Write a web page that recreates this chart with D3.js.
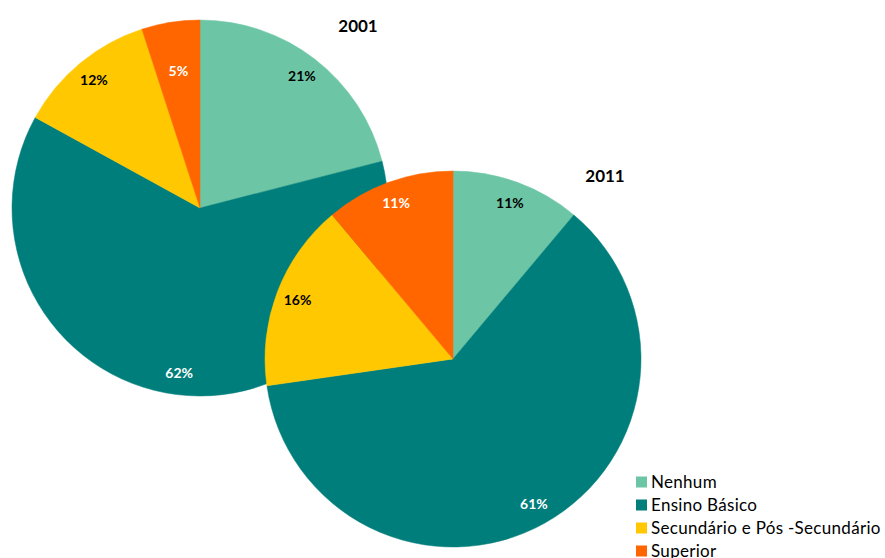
<!DOCTYPE html>
<html>
<head>
<meta charset="utf-8">
<script src="https://cdn.jsdelivr.net/npm/d3@7"></script>
<style>
  html, body { margin: 0; padding: 0; background: #fff; }
  svg { display: block; font-family: Lato, "Open Sans", sans-serif; }
</style>
</head>
<body>
<svg id="chart" width="885" height="558"></svg>
<script>
// Education level shares of the population, 2001 vs 2011
const categories = ["Nenhum", "Ensino Básico", "Secundário e Pós -Secundário", "Superior"];
const values2001 = [21, 62, 12, 5];
const values2011 = [11, 61, 16, 11];
const years = ["2001", "2011"];
const colors = ["#6CC6A5", "#007E7B", "#FFC800", "#FF6600"];
const labelColors = ["#000", "#fff", "#000", "#fff"];

const svg = d3.select("#chart");
const color = d3.scaleOrdinal().domain(categories).range(colors);
const labelColor = d3.scaleOrdinal().domain(categories).range(labelColors);

const pie = d3.pie().sort(null).value(d => d.value);
const radius = 188;
const arc = d3.arc().innerRadius(0).outerRadius(radius);

function drawPie(values, cx, cy, title, tx, ty) {
  const data = categories.map((c, i) => ({ category: c, value: values[i] }));
  const g = svg.append("g").attr("transform", `translate(${cx},${cy})`);
  const arcs = pie(data);

  g.selectAll("path")
    .data(arcs)
    .join("path")
    .attr("d", arc)
    .attr("fill", d => color(d.data.category))
    .attr("stroke", d => color(d.data.category))
    .attr("stroke-width", 0.5);

  g.selectAll("text")
    .data(arcs)
    .join("text")
    .attr("transform", d => {
      const mid = (d.startAngle + d.endAngle) / 2;
      const rl = d.data.value < 8 ? radius * 0.735 : radius * 0.885;
      return `translate(${rl * Math.sin(mid)},${-rl * Math.cos(mid)})`;
    })
    .attr("text-anchor", "middle")
    .attr("dy", "0.35em")
    .attr("font-size", 14)
    .attr("font-weight", "bold")
    .attr("fill", d => labelColor(d.data.category))
    .text(d => d.data.value + "%");

  svg.append("text")
    .attr("x", tx)
    .attr("y", ty)
    .attr("text-anchor", "middle")
    .attr("font-size", 17)
    .attr("font-weight", "bold")
    .attr("fill", "#000")
    .text(title);
}

drawPie(values2001, 200, 208, years[0], 358, 32);
drawPie(values2011, 453, 359, years[1], 605, 182);

// Legend
const legend = svg.append("g").attr("transform", "translate(636,482)");
const rows = legend.selectAll("g")
  .data(categories)
  .join("g")
  .attr("transform", (d, i) => `translate(0,${i * 23})`);

rows.append("rect")
  .attr("x", 0)
  .attr("y", -5.5)
  .attr("width", 11)
  .attr("height", 11)
  .attr("fill", d => color(d));

rows.append("text")
  .attr("x", 15)
  .attr("y", 0)
  .attr("dy", "0.36em")
  .attr("font-size", 17)
  .attr("letter-spacing", 0.3)
  .attr("fill", "#000")
  .text(d => d);
</script>
</body>
</html>
